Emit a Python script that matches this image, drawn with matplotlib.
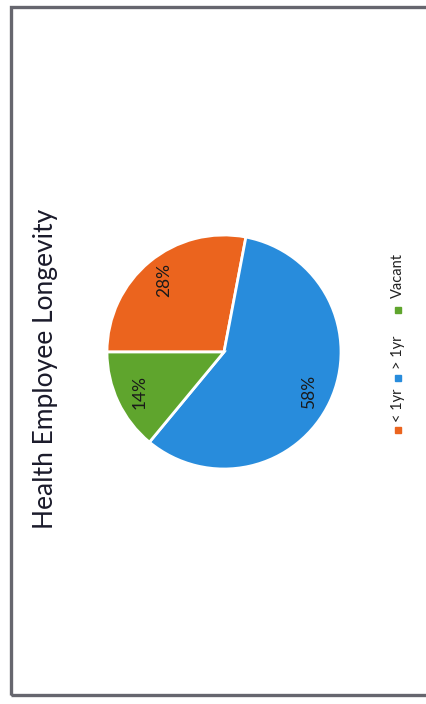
import matplotlib.pyplot as plt
from matplotlib.patches import Rectangle

# chart data
categories = ['< 1yr', '> 1yr', 'Vacant']
shares = [28, 58, 14]
colors = ['#EB641E', '#288CDC', '#5FA52D']
title = 'Health Employee Longevity'

W, H = 427, 704
plt.rcParams['font.family'] = ['Lato', 'DejaVu Sans']

fig = plt.figure(figsize=(W / 100, H / 100), dpi=100)
fig.patch.set_facecolor('white')


def fx(px):
    return px / W


def fy(py):
    # py measured from the top of the picture
    return 1 - py / H


# scanned page frame (right side is cut off in the scan)
fig.patches.append(Rectangle((fx(11), fy(695)), fx(440 - 11), (695 - 7) / H,
                             transform=fig.transFigure, fill=False,
                             edgecolor='#66666e', linewidth=2.4))

# the whole chart is turned 90 degrees, so the pie starts at 9 o'clock
cx, cy, r = 224, 352, 117
ax = fig.add_axes([fx(cx - r), fy(cy + r), fx(2 * r), 2 * r / H])
wedges, texts, autotexts = ax.pie(
    shares, colors=colors, startangle=180, counterclock=False,
    autopct='%1.0f%%', pctdistance=0.8,
    wedgeprops=dict(edgecolor='white', linewidth=2),
    textprops=dict(rotation=90, fontsize=12.5, color='#1a1a1a'))
ax.set_xlim(-1.0, 1.0)
ax.set_ylim(-1.0, 1.0)
ax.axis('off')

fig.text(fx(46), fy(369), title, rotation=90, ha='center', va='center',
         fontsize=19, color='#1a1a2a')

# legend, read from bottom to top
marker_y = [430, 378, 310]
label_y = [405, 352, 275]
for name, col, my, ly in zip(categories, colors, marker_y, label_y):
    fig.patches.append(Rectangle((fx(395), fy(my + 3)), fx(6), 6 / H,
                                 transform=fig.transFigure, color=col))
    fig.text(fx(398), fy(ly), name, rotation=90, ha='center', va='center',
             fontsize=10.5, color='#222222')

fig.savefig('out.png', dpi=100)
